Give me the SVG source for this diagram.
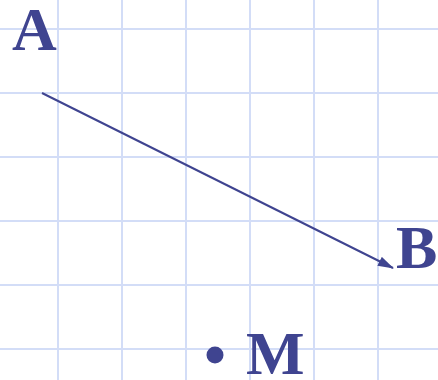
<svg xmlns="http://www.w3.org/2000/svg" width="438" height="380" viewBox="0 0 438 380">
<defs>
<style>
.grid line{stroke:#d3ddf7;stroke-width:2}
.lbl{font-family:"Liberation Serif","Times New Roman",serif;font-weight:bold;font-size:62px;fill:#3f4490}
.seg{stroke:#3f4490;stroke-width:2;fill:none}
</style>
<marker id="arr" viewBox="0 0 16 10" refX="15" refY="5" markerWidth="16" markerHeight="10" markerUnits="userSpaceOnUse" orient="auto">
<path d="M0,0 L16,5 L0,10 z" fill="#3f4490"/>
</marker>
</defs>
<rect width="438" height="380" fill="#ffffff"/>
<g class="grid">
<line x1="58" y1="0" x2="58" y2="380"/>
<line x1="122" y1="0" x2="122" y2="380"/>
<line x1="186" y1="0" x2="186" y2="380"/>
<line x1="250" y1="0" x2="250" y2="380"/>
<line x1="314" y1="0" x2="314" y2="380"/>
<line x1="378" y1="0" x2="378" y2="380"/>
<line x1="0" y1="29" x2="438" y2="29"/>
<line x1="0" y1="93" x2="438" y2="93"/>
<line x1="0" y1="157" x2="438" y2="157"/>
<line x1="0" y1="221" x2="438" y2="221"/>
<line x1="0" y1="285" x2="438" y2="285"/>
<line x1="0" y1="349" x2="438" y2="349"/>
</g>
<g id="connectors">
<line class="seg" x1="42" y1="93" x2="393" y2="268" marker-end="url(#arr)"/>
</g>
<g id="A"><text class="lbl" x="12" y="50">A</text></g>
<g id="B"><text class="lbl" x="396" y="268">B</text></g>
<g id="M"><circle cx="215" cy="355" r="8.5" fill="#3f4490"/><text class="lbl" x="246" y="374">M</text></g>
</svg>
